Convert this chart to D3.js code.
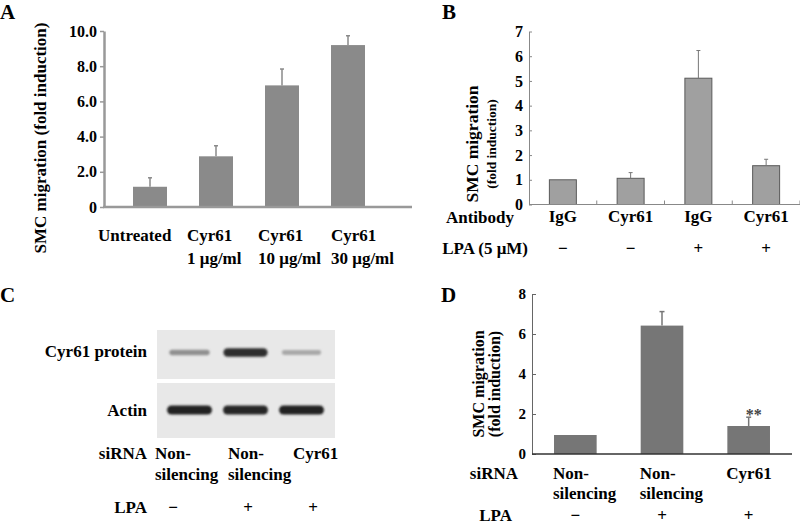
<!DOCTYPE html>
<html><head><meta charset="utf-8">
<script src="https://cdn.jsdelivr.net/npm/d3@7"></script>
<style>
body{margin:0;background:#fff}
text{font-family:"Liberation Serif","Times New Roman",serif;font-weight:bold;fill:#000}
</style>
</head><body><svg id="c" width="800" height="525"></svg>
<script>
// ---------- Panel A ----------
const aCategories = ["Untreated", "Cyr61 1", "Cyr61 10", "Cyr61 30"];
const aLabels = [["Untreated"], ["Cyr61", "1 μg/ml"], ["Cyr61", "10 μg/ml"], ["Cyr61", "30 μg/ml"]];
const aValues = [1.15, 2.88, 6.91, 9.2];
const aErrors = [0.51, 0.6, 0.93, 0.53];
const aTicks = [0, 2, 4, 6, 8, 10];
const aTickLabels = ["0", "2.0", "4.0", "6.0", "8.0", "10.0"];
// ---------- Panel B ----------
const bCategories = ["IgG-", "Cyr61-", "IgG+", "Cyr61+"];
const bAntibody = ["IgG", "Cyr61", "IgG", "Cyr61"];
const bLPA = ["−", "−", "+", "+"];
const bValues = [1.0, 1.06, 5.11, 1.57];
const bErrors = [0, 0.23, 1.12, 0.26];
const bTicks = [0, 1, 2, 3, 4, 5, 6, 7];
// ---------- Panel C (western blot) ----------
const cLanes = ["lane1", "lane2", "lane3"];
const cSiRNA = [["Non-", "silencing"], ["Non-", "silencing"], ["Cyr61"]];
const cLPA = ["−", "+", "+"];
const cCyr61Band = [0.42, 0.9, 0.3];
const cActinBand = [0.95, 0.93, 0.95];
// ---------- Panel D ----------
const dCategories = ["NS-", "NS+", "Cyr61+"];
const dSiRNA = [["Non-", "silencing"], ["Non-", "silencing"], ["Cyr61"]];
const dLPA = ["−", "+", "+"];
const dValues = [0.95, 6.42, 1.4];
const dErrors = [0, 0.7, 0.44];
const dTicks = [0, 2, 4, 6, 8];

const svg = d3.select("#c");

function panelLetter(t, x, y) {
  svg.append("text").attr("x", x).attr("y", y).attr("font-size", 21).text(t);
}
function errorBars(g, vals, errs, x, y, color, width, cap) {
  const idx = d3.range(vals.length).filter(i => errs[i] > 0);
  g.selectAll(".eb").data(idx).join("line")
    .attr("x1", i => x(i)).attr("x2", i => x(i))
    .attr("y1", i => y(vals[i])).attr("y2", i => y(vals[i] + errs[i]))
    .attr("stroke", color).attr("stroke-width", width);
  g.selectAll(".ec").data(idx).join("line")
    .attr("x1", i => x(i) - cap).attr("x2", i => x(i) + cap)
    .attr("y1", i => y(vals[i] + errs[i])).attr("y2", i => y(vals[i] + errs[i]))
    .attr("stroke", color).attr("stroke-width", width);
}

// ================= A =================
panelLetter("A", 0, 19);
{
  const g = svg.append("g");
  const x = d3.scaleBand().domain(aCategories).range([117, 381]).paddingInner(0.485).paddingOuter(0.2425);
  const y = d3.scaleLinear().domain([0, 10]).range([207, 31]);
  g.selectAll("rect").data(aValues).join("rect")
    .attr("x", (d, i) => x(aCategories[i])).attr("width", x.bandwidth())
    .attr("y", d => y(d)).attr("height", d => y(0) - y(d)).attr("fill", "#8a8a8a");
  errorBars(g, aValues, aErrors, i => x(aCategories[i]) + x.bandwidth() / 2, y, "#8a8a8a", 1.5, 2);
  const ya = g.append("g").attr("transform", "translate(104,0)")
    .call(d3.axisLeft(y).tickValues(aTicks).tickFormat((d, i) => aTickLabels[i]).tickSizeInner(4).tickSizeOuter(0).tickPadding(3));
  ya.select(".domain").attr("stroke", "#999").attr("stroke-width", 2.5);
  ya.selectAll(".tick line").attr("stroke", "#999").attr("stroke-width", 1.5);
  ya.selectAll(".tick text").attr("font-size", 16).attr("font-family", "Liberation Serif").attr("font-weight", "bold").attr("fill", "#000");
  g.append("line").attr("x1", 103).attr("x2", 412).attr("y1", y(0)).attr("y2", y(0))
    .attr("stroke", "#999").attr("stroke-width", 2.5);
  const lx = d3.scaleOrdinal().domain(aCategories).range([98, 187, 258, 331]);
  aLabels.forEach((lines, i) => {
    lines.forEach((t, j) => {
      g.append("text").attr("x", lx(aCategories[i])).attr("y", 241 + j * 23).attr("font-size", 17).text(t);
    });
  });
  g.append("text").attr("transform", "translate(46,138) rotate(-90)").attr("text-anchor", "middle")
    .attr("font-size", 17).text("SMC migration (fold induction)");
}

// ================= B =================
panelLetter("B", 442, 19);
{
  const g = svg.append("g");
  const x = d3.scaleBand().domain(bCategories).range([529, 800]).paddingInner(0.587).paddingOuter(0.2935);
  const y = d3.scaleLinear().domain([0, 7]).range([204.5, 31.5]);
  g.selectAll("rect").data(bValues).join("rect")
    .attr("x", (d, i) => x(bCategories[i]) + 0.5).attr("width", x.bandwidth() - 1)
    .attr("y", d => y(d)).attr("height", d => y(0) - y(d))
    .attr("fill", "#a0a0a0").attr("stroke", "#5a5a5a").attr("stroke-width", 1);
  errorBars(g, bValues, bErrors, i => x(bCategories[i]) + x.bandwidth() / 2, y, "#777", 1, 2);
  const ya = g.append("g").attr("transform", "translate(529,0)")
    .call(d3.axisLeft(y).tickValues(bTicks).tickFormat(d3.format("d")).tickSizeInner(-3).tickSizeOuter(0).tickPadding(6));
  ya.select(".domain").attr("stroke", "#888");
  ya.selectAll(".tick line").attr("stroke", "#888");
  ya.selectAll(".tick text").attr("font-size", 16).attr("font-family", "Liberation Serif").attr("font-weight", "bold").attr("fill", "#000");
  g.append("line").attr("x1", 529).attr("x2", 800).attr("y1", y(0)).attr("y2", y(0)).attr("stroke", "#888");
  g.selectAll(".sep").data(bCategories).join("line")
    .attr("x1", d => x(d) + x.bandwidth() + x.step() * x.paddingInner() / 2)
    .attr("x2", d => x(d) + x.bandwidth() + x.step() * x.paddingInner() / 2)
    .attr("y1", y(0)).attr("y2", y(0) - 4).attr("stroke", "#888");
  g.selectAll(".ab").data(bAntibody).join("text")
    .attr("x", (d, i) => x(bCategories[i]) + x.bandwidth() / 2).attr("y", 222)
    .attr("text-anchor", "middle").attr("font-size", 17).text(d => d);
  g.selectAll(".lp").data(bLPA).join("text")
    .attr("x", (d, i) => x(bCategories[i]) + x.bandwidth() / 2).attr("y", 254)
    .attr("text-anchor", "middle").attr("font-size", 17).text(d => d);
  g.append("text").attr("x", 514).attr("y", 223).attr("text-anchor", "end").attr("font-size", 17).text("Antibody");
  g.append("text").attr("x", 528).attr("y", 254).attr("text-anchor", "end").attr("font-size", 17).text("LPA (5 μM)");
  g.append("text").attr("transform", "translate(478,144) rotate(-90)").attr("text-anchor", "middle")
    .attr("font-size", 17.5).text("SMC migration");
  g.append("text").attr("transform", "translate(496,144) rotate(-90)").attr("text-anchor", "middle")
    .attr("font-size", 13.5).text("(fold induction)");
}

// ================= C =================
panelLetter("C", 0, 302);
{
  const g = svg.append("g");
  const defs = svg.append("defs");
  defs.append("filter").attr("id", "blur").attr("x", "-20%").attr("y", "-100%").attr("width", "140%").attr("height", "300%")
    .append("feGaussianBlur").attr("stdDeviation", 1.3);
  const lane = d3.scaleBand().domain(cLanes).range([161.5, 329.5]).paddingInner(0.196).paddingOuter(0.098);
  const shade = d3.interpolateRgb("#e6e6e6", "#1a1a1a");
  const blots = [
    { top: 330, h: 49, cy: 352.5, data: cCyr61Band, hFn: v => 3 + 6 * v, wFn: v => lane.bandwidth() * (0.82 + 0.18 * v) },
    { top: 383, h: 55, cy: 410, data: cActinBand, hFn: v => 9, wFn: v => lane.bandwidth() }
  ];
  blots.forEach(b => {
    g.append("rect").attr("x", 157).attr("y", b.top).attr("width", 178).attr("height", b.h).attr("fill", "#e8e8e8");
    g.selectAll(null).data(b.data).join("rect")
      .attr("x", (v, i) => lane(cLanes[i]) + (lane.bandwidth() - b.wFn(v)) / 2)
      .attr("width", v => b.wFn(v))
      .attr("y", v => b.cy - b.hFn(v) / 2).attr("height", v => b.hFn(v))
      .attr("rx", v => b.hFn(v) / 2)
      .attr("fill", v => shade(v)).attr("filter", "url(#blur)");
  });
  g.append("text").attr("x", 147).attr("y", 357).attr("text-anchor", "end").attr("font-size", 17).text("Cyr61 protein");
  g.append("text").attr("x", 147).attr("y", 416).attr("text-anchor", "end").attr("font-size", 17).text("Actin");
  g.append("text").attr("x", 147).attr("y", 459).attr("text-anchor", "end").attr("font-size", 17).text("siRNA");
  g.append("text").attr("x", 147).attr("y", 513).attr("text-anchor", "end").attr("font-size", 17).text("LPA");
  const lx = d3.scaleOrdinal().domain(cLanes).range([155, 228, 293]);
  cSiRNA.forEach((lines, i) => lines.forEach((t, j) => {
    g.append("text").attr("x", lx(cLanes[i])).attr("y", 459 + j * 21).attr("font-size", 17).text(t);
  }));
  const px = d3.scaleOrdinal().domain(cLanes).range([173, 248, 313]);
  g.selectAll(".lp").data(cLPA).join("text")
    .attr("x", (d, i) => px(cLanes[i])).attr("y", 513).attr("text-anchor", "middle").attr("font-size", 17).text(d => d);
}

// ================= D =================
panelLetter("D", 441, 302);
{
  const g = svg.append("g");
  const x = d3.scaleBand().domain(dCategories).range([532, 792]).paddingInner(0.508).paddingOuter(0.254);
  const y = d3.scaleLinear().domain([0, 8]).range([454, 294]);
  g.append("text").attr("transform", "translate(484,384) rotate(-90)").attr("text-anchor", "middle")
    .attr("font-size", 16).text("SMC migration");
  g.append("text").attr("transform", "translate(500,384) rotate(-90)").attr("text-anchor", "middle")
    .attr("font-size", 16).text("(fold induction)");
  g.selectAll("rect").data(dValues).join("rect")
    .attr("x", (d, i) => x(dCategories[i])).attr("width", x.bandwidth())
    .attr("y", d => y(d)).attr("height", d => y(0) - y(d)).attr("fill", "#767676");
  errorBars(g, dValues, dErrors, i => x(dCategories[i]) + x.bandwidth() / 2, y, "#767676", 1.5, 2.5);
  const ya = g.append("g").attr("transform", "translate(532,0)")
    .call(d3.axisLeft(y).tickValues(dTicks).tickFormat(d3.format("d")).tickSizeInner(-4).tickSizeOuter(0).tickPadding(6));
  ya.select(".domain").attr("stroke", "#666");
  ya.selectAll(".tick line").attr("stroke", "#666");
  ya.selectAll(".tick text").attr("font-size", 15).attr("font-family", "Liberation Serif").attr("font-weight", "bold").attr("fill", "#000");
  g.append("line").attr("x1", 532).attr("x2", 792).attr("y1", y(0)).attr("y2", y(0)).attr("stroke", "#333").attr("stroke-width", 1.3);
  g.append("text").attr("x", x(dCategories[2]) + x.bandwidth() / 2 + 5).attr("y", y(dValues[2] + dErrors[2]) + 3)
    .attr("text-anchor", "middle").attr("font-size", 16).style("fill", "#444").text("**");
  dSiRNA.forEach((lines, i) => lines.forEach((t, j) => {
    g.append("text").attr("x", x(dCategories[i]) - 1).attr("y", 479 + j * 20).attr("font-size", 17).text(t);
  }));
  g.selectAll(".lp").data(dLPA).join("text")
    .attr("x", (d, i) => x(dCategories[i]) + x.bandwidth() / 2).attr("y", 521)
    .attr("text-anchor", "middle").attr("font-size", 17).text(d => d);
  g.append("text").attr("x", 518).attr("y", 479).attr("text-anchor", "end").attr("font-size", 17).text("siRNA");
  g.append("text").attr("x", 512).attr("y", 521).attr("text-anchor", "end").attr("font-size", 17).text("LPA");
}
</script>
</body></html>
